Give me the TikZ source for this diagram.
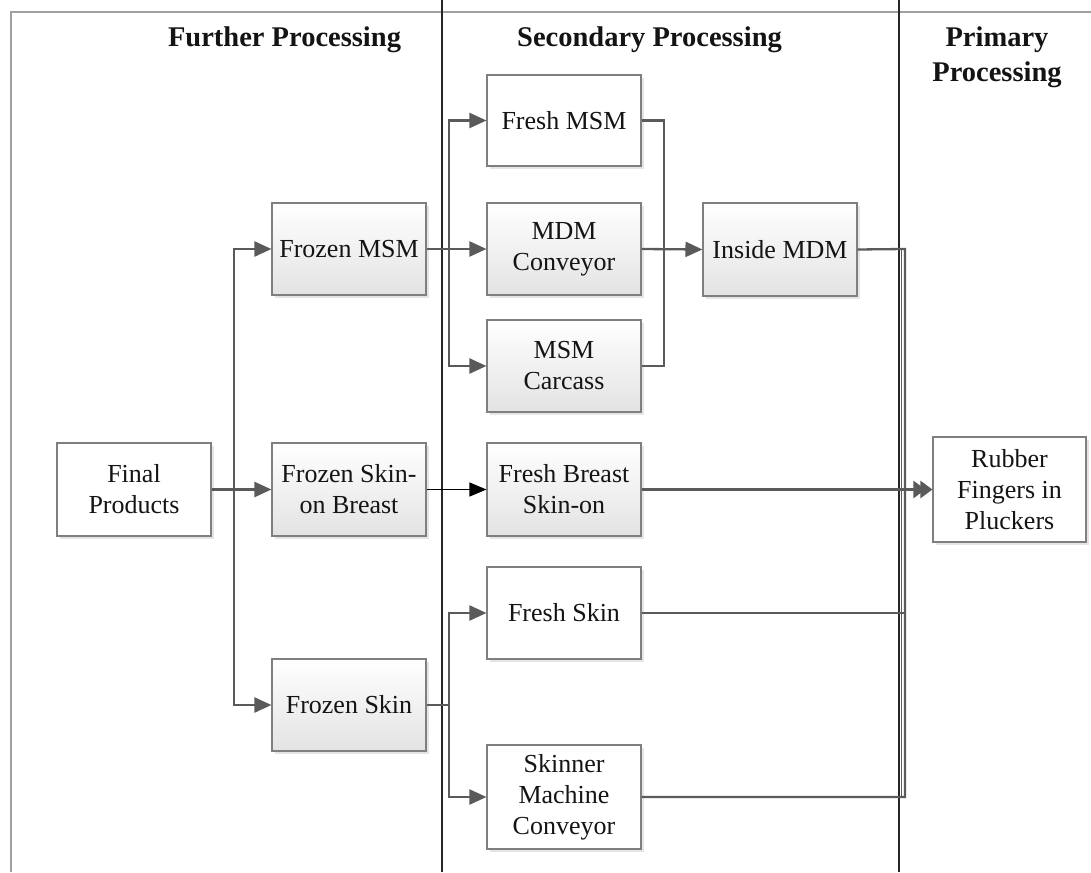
\documentclass[tikz,border=0pt]{standalone}
\usepackage{fontspec}
\setmainfont{Liberation Serif}
\usetikzlibrary{arrows.meta,shadows,calc}
\definecolor{conncol}{HTML}{5A5A5A}
\definecolor{boxcol}{HTML}{7F7F7F}
\definecolor{framecol}{HTML}{A0A0A0}
\tikzset{
  box/.style={draw=boxcol, line width=1.1pt, minimum width=154pt, minimum height=92pt,
    inner sep=2pt, align=center, font=\fontsize{26}{31}\selectfont, text=black!92,
    drop shadow={shadow xshift=3pt, shadow yshift=-3pt, fill=black!10, opacity=1}},
  plainbox/.style={box, fill=white},
  gradbox/.style={box, top color=white, bottom color=black!11},
  conn/.style={draw=conncol, line width=2.3pt},
  arr/.style={conn, -{Triangle[length=17pt,width=15pt]}},
  header/.style={font=\fontsize{28.5}{35}\selectfont\bfseries, text=black!92, inner sep=0pt, align=center},
  divider/.style={draw=black!85, line width=2.2pt},
}
\begin{document}
\begin{tikzpicture}[x=1pt,y=-1pt]
\useasboundingbox (0,0) rectangle (1091,872);
% frame
\draw[draw=framecol, line width=1.6pt] (11,872) -- (11,12) -- (1091,12);
% dividers
\draw[divider] (442,0) -- (442,872);
\draw[divider] (899,0) -- (899,872);
% headers
\node[header, anchor=base] (h1) at (284.5,47) {Further Processing};
\node[header, anchor=base] (h2) at (649.5,47) {Secondary Processing};
\node[header, anchor=north] (h3) at (997,27) {Primary\\Processing};
% nodes
\node[plainbox, minimum height=93pt] (final) at (134,489.5) {Final\\Products};
\node[gradbox] (fmsm) at (349,249) {Frozen MSM};
\node[gradbox, minimum height=93pt] (fskb) at (349,489.5) {Frozen Skin-\\on Breast};
\node[gradbox] (fskin) at (349,705) {Frozen Skin};
\node[plainbox, minimum height=91pt] (freshmsm) at (564,120.5) {Fresh MSM};
\node[gradbox] (mdmc) at (564,249) {MDM\\Conveyor};
\node[gradbox] (msmc) at (564,366) {MSM\\Carcass};
\node[gradbox, minimum height=93pt] (inside) at (780,249.5) {Inside MDM};
\node[gradbox, minimum height=93pt] (fbs) at (564,489.5) {Fresh Breast\\Skin-on};
\node[plainbox] (freshskin) at (564,613) {Fresh Skin};
\node[plainbox, minimum height=104pt] (skinner) at (564,797) {Skinner\\Machine\\Conveyor};
\node[plainbox, minimum width=153pt, minimum height=105pt] (rubber) at (1009.5,489.5) {Rubber\\Fingers in\\Pluckers};
% junction coordinates
\coordinate (j1) at (234,489.5);
\coordinate (j2) at (449,249);
\coordinate (j3) at (664,249);
\coordinate (j4) at (449,705);
\coordinate (ra) at (905,249);
\coordinate (rb) at (905,797);
\coordinate (rc) at (901.5,249);
\coordinate (rd) at (901.5,797);
\coordinate (rf) at (905,613);
% Final -> frozen
\draw[conn, line width=3.2pt] (final.east) -- (j1);
\draw[arr] (final.east) -- (fskb.west);
\draw[arr] (j1) |- (fmsm.west);
\draw[arr] (j1) |- (fskin.west);
% Frozen MSM -> secondary
\draw[arr] (fmsm.east) -- (mdmc.west);
\draw[arr] (j2) |- (freshmsm.west);
\draw[arr] (j2) |- (msmc.west);
% merge into Inside MDM
\draw[conn] (freshmsm.east) -| (j3);
\draw[conn] (msmc.east) -| (j3);
\draw[arr] (mdmc.east) -- (inside.west);
% Frozen skin-on breast -> Fresh Breast
\draw[draw=black, line width=1.3pt, -{Triangle[length=17pt,width=14pt]}] (fskb.east) -- (fbs.west);
% Frozen Skin -> fresh skin, skinner
\draw[conn] (fskin.east) -- (j4);
\draw[arr] (j4) |- (freshskin.west);
\draw[arr] (j4) |- (skinner.west);
% to primary
\draw[conn] (inside.east) -- (ra) -- (rb) -- (skinner.east);
\draw[conn, line width=1.4pt] (rc) -- (rd);
\draw[conn] (freshskin.east) -- (rf);
\draw[conn, -{Triangle[length=12pt,width=17pt,sep=-5pt]Triangle[length=12pt,width=17pt]}] (fbs.east) -- (rubber.west);
\end{tikzpicture}
\end{document}
